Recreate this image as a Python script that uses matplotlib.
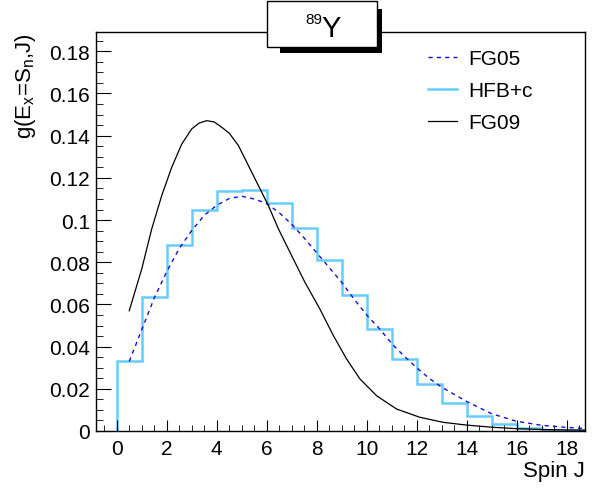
import numpy as np
import matplotlib
matplotlib.use("Agg")
import matplotlib.pyplot as plt
from matplotlib.patches import Rectangle
from matplotlib.ticker import MultipleLocator, FuncFormatter

plt.rcParams['font.family'] = ['Liberation Sans', 'DejaVu Sans']
plt.rcParams['mathtext.fontset'] = 'custom'
plt.rcParams['mathtext.rm'] = 'Liberation Sans'
plt.rcParams['mathtext.it'] = 'Liberation Sans'
plt.rcParams['mathtext.default'] = 'regular'

# HFB+c histogram, one bin per spin J
hfb_edges = np.arange(0, 20)
hfb_vals = [0.0333, 0.0637, 0.0882, 0.105, 0.1139, 0.1144, 0.108, 0.0964, 0.0811,
            0.0646, 0.0485, 0.0341, 0.0223, 0.0133, 0.0073, 0.0035, 0.0014, 0.0005, 0.0003]

# FG05 curve
fg05_x = [0.5, 1, 1.5, 2, 2.5, 3, 3.5, 4, 4.5, 5, 5.5, 6, 6.5, 7, 7.5, 8, 8.5, 9,
          9.5, 10, 10.5, 11, 11.5, 12, 12.5, 13, 14, 15, 16, 17, 18, 18.75]
fg05_y = [0.033, 0.048, 0.063, 0.0755, 0.0865, 0.095, 0.1022, 0.107, 0.1102, 0.1113,
          0.110, 0.1078, 0.1035, 0.098, 0.0915, 0.0845, 0.0775, 0.0705, 0.0625, 0.055,
          0.0487, 0.0415, 0.0355, 0.030, 0.025, 0.0208, 0.014, 0.0082, 0.0046, 0.0027,
          0.0017, 0.0012]

# FG09 curve
fg09_x = [0.5, 1.0, 1.4, 1.8, 2.2, 2.6, 3.0, 3.3, 3.6, 3.9, 4.2, 4.5, 4.87, 5.27, 5.67,
          6.07, 6.47, 7.0, 7.53, 8.13, 8.67, 9.2, 9.73, 10.4, 11.2, 12.13, 13.07, 14.0,
          15, 16, 17, 18, 18.75]
fg09_y = [0.057, 0.0768, 0.0958, 0.1116, 0.125, 0.136, 0.1432, 0.146, 0.1471, 0.1465,
          0.144, 0.1412, 0.1353, 0.1258, 0.1163, 0.1068, 0.0958, 0.0831, 0.0705, 0.0578,
          0.0452, 0.0341, 0.0247, 0.0167, 0.0104, 0.0065, 0.0041, 0.0028, 0.0018, 0.0011,
          0.0007, 0.0005, 0.0004]

W, H = 598, 489
fig = plt.figure(figsize=(W / 100, H / 100), dpi=100)
ax = fig.add_axes([95.5 / W, (H - 432) / H, (585.3 - 95.5) / W, (432 - 33.3) / H])

l05, = ax.plot(fg05_x, fg05_y, color='#1010d0', lw=1.0, ls=(0, (3, 3)), label='FG05')
ax.stairs(hfb_vals, hfb_edges, color='#66ccff', lw=1.8)
lh, = ax.plot([], [], color='#66ccff', lw=1.8, label='HFB+c')
l09, = ax.plot(fg09_x, fg09_y, color='black', lw=0.9, label='FG09')

ax.set_xlim(-0.85, 18.75)
ax.set_ylim(0, 0.189)

ax.xaxis.set_major_locator(MultipleLocator(2))
ax.xaxis.set_minor_locator(MultipleLocator(0.5))
ax.yaxis.set_major_locator(MultipleLocator(0.02))
ax.yaxis.set_minor_locator(MultipleLocator(0.005))
ax.yaxis.set_major_formatter(FuncFormatter(lambda v, p: f'{round(v, 3):g}'))

ax.tick_params(axis='both', which='both', direction='in', top=False, right=False,
               labelsize=15, color='black')
ax.tick_params(axis='y', which='major', length=10.5, pad=4)
ax.tick_params(axis='y', which='minor', length=5)
ax.tick_params(axis='x', which='major', length=8, pad=6)
ax.tick_params(axis='x', which='minor', length=4)
for s in ax.spines.values():
    s.set_linewidth(1.0)

ax.set_xlabel('Spin J', fontsize=16, ha='right', x=1.0)
ax.xaxis.set_label_coords(1.0, -0.073)
ax.set_ylabel('g(E$_{x}$=S$_{n}$,J)', fontsize=16, ha='right', y=1.0)
ax.yaxis.set_label_coords(-0.117, 1.0)

leg = ax.legend(handles=[l05, lh, l09], loc='upper left',
                bbox_to_anchor=(422 / W, 1 - 44 / H), bbox_transform=fig.transFigure,
                fontsize=15, frameon=True, fancybox=False, edgecolor='none',
                facecolor='white', framealpha=1, handlelength=1.4, handletextpad=0.5,
                labelspacing=0.62, borderpad=0.3, borderaxespad=0)
leg.set_zorder(5)

# title box with shadow
fig.patches.append(Rectangle((280 / W, 1 - 54 / H), 102 / W, 44 / H,
                             transform=fig.transFigure, facecolor='black',
                             edgecolor='none', zorder=10))
fig.patches.append(Rectangle((267 / W, 1 - 48 / H), 110 / W, 46 / H,
                             transform=fig.transFigure, facecolor='white',
                             edgecolor='black', lw=1.0, zorder=11))
fig.text(305 / W, 1 - 24 / H, '89', fontsize=11, ha='left', va='baseline', zorder=12)
fig.text(321 / W, 1 - 36.7 / H, 'Y', fontsize=21, ha='left', va='baseline', zorder=12)

fig.savefig('out.png', dpi=100)
